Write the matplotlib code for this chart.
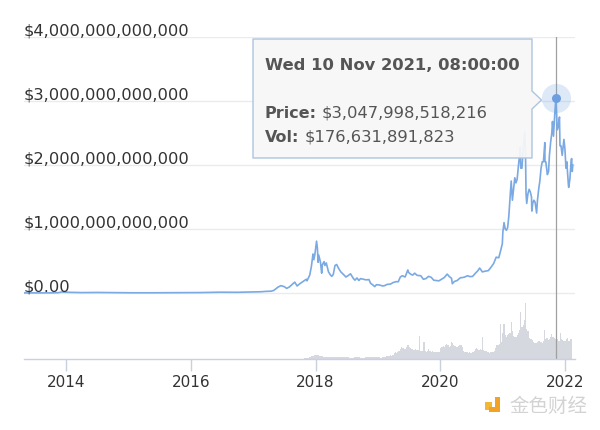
import matplotlib
matplotlib.use("Agg")
import matplotlib.pyplot as plt
import matplotlib.dates as mdates
import matplotlib.transforms as mtransforms
from matplotlib.patches import Polygon, Rectangle
import pandas as pd
import numpy as np

# ------------------------------------------------------------------ data
price_dates = [
    "2013-04-28", "2013-07-05", "2013-10-01", "2013-11-15", "2013-12-04", "2014-01-15",
    "2014-04-01", "2014-07-01", "2014-10-01", "2015-01-15", "2015-06-01", "2015-11-05",
    "2016-03-01", "2016-06-17", "2016-10-01", "2017-01-01", "2017-02-15", "2017-03-15",
    "2017-04-15", "2017-05-01", "2017-05-25", "2017-06-12", "2017-07-01", "2017-07-16",
    "2017-08-01", "2017-08-20", "2017-09-01", "2017-09-15", "2017-10-01", "2017-10-20",
    "2017-11-08", "2017-11-12", "2017-11-28", "2017-12-08", "2017-12-17", "2017-12-22",
    "2017-12-28", "2018-01-07", "2018-01-12", "2018-01-16", "2018-01-20", "2018-01-30",
    "2018-02-06", "2018-02-10", "2018-02-20", "2018-02-25", "2018-03-05", "2018-03-18",
    "2018-03-30", "2018-04-06", "2018-04-15", "2018-04-25", "2018-05-05", "2018-05-15",
    "2018-05-29", "2018-06-10", "2018-06-28", "2018-07-10", "2018-07-25", "2018-08-10",
    "2018-08-20", "2018-09-01", "2018-09-12", "2018-09-22", "2018-10-10", "2018-10-25",
    "2018-11-10", "2018-11-20", "2018-12-01", "2018-12-14", "2018-12-24", "2019-01-01",
    "2019-01-10", "2019-01-30", "2019-02-10", "2019-02-25", "2019-03-15", "2019-04-02",
    "2019-04-20", "2019-05-01", "2019-05-13", "2019-05-25", "2019-06-10", "2019-06-26",
    "2019-07-01", "2019-07-15", "2019-07-25", "2019-08-05", "2019-08-20", "2019-09-10",
    "2019-09-25", "2019-10-10", "2019-10-26", "2019-11-10", "2019-11-25", "2019-12-10",
    "2019-12-25", "2020-01-10", "2020-01-25", "2020-02-12", "2020-02-25", "2020-03-08",
    "2020-03-13", "2020-03-25", "2020-04-10", "2020-04-30", "2020-05-10", "2020-05-25",
    "2020-06-10", "2020-06-25", "2020-07-10", "2020-07-25", "2020-08-10", "2020-08-20",
    "2020-09-05", "2020-09-20", "2020-10-10", "2020-10-25", "2020-11-10", "2020-11-25",
    "2020-12-10", "2020-12-20", "2020-12-31",
    "2021-01-03", "2021-01-10", "2021-01-17", "2021-01-24", "2021-01-31", "2021-02-07",
    "2021-02-14", "2021-02-21", "2021-02-28", "2021-03-07", "2021-03-14", "2021-03-21",
    "2021-03-28", "2021-04-04", "2021-04-11", "2021-04-14", "2021-04-18", "2021-04-25",
    "2021-05-02", "2021-05-09", "2021-05-12", "2021-05-16", "2021-05-19", "2021-05-23",
    "2021-05-30", "2021-06-06", "2021-06-13", "2021-06-20", "2021-06-22", "2021-06-27",
    "2021-07-04", "2021-07-11", "2021-07-20", "2021-07-25", "2021-08-01", "2021-08-08",
    "2021-08-15", "2021-08-22", "2021-08-29", "2021-09-06", "2021-09-07", "2021-09-12",
    "2021-09-21", "2021-09-28", "2021-10-03", "2021-10-10", "2021-10-17", "2021-10-21",
    "2021-10-27", "2021-11-03", "2021-11-10", "2021-11-14", "2021-11-18", "2021-11-24",
    "2021-12-01", "2021-12-04", "2021-12-10", "2021-12-17", "2021-12-27",
    "2022-01-02", "2022-01-08", "2022-01-13", "2022-01-22", "2022-01-24", "2022-01-31",
    "2022-02-07", "2022-02-10", "2022-02-14", "2022-02-17",
]
# total market cap, trillions of USD
price_tn = [
    0.0016, 0.0010, 0.0019, 0.0050, 0.0150, 0.0110,
    0.0065, 0.0085, 0.0055, 0.0035, 0.0035, 0.0060,
    0.0070, 0.0125, 0.0110, 0.0177, 0.0195, 0.0250,
    0.0280, 0.0400, 0.0900, 0.1150, 0.1000, 0.0720,
    0.0950, 0.1400, 0.1700, 0.1100, 0.1450, 0.1800,
    0.2150, 0.1900, 0.2800, 0.4200, 0.6100, 0.5200,
    0.6000, 0.8100, 0.7000, 0.4800, 0.5900, 0.4800,
    0.3100, 0.4400, 0.4900, 0.4300, 0.4700, 0.3300,
    0.2800, 0.2600, 0.2900, 0.4300, 0.4450, 0.3900,
    0.3300, 0.3000, 0.2500, 0.2700, 0.3000, 0.2300,
    0.2000, 0.2350, 0.1950, 0.2250, 0.2150, 0.2050,
    0.2100, 0.1500, 0.1300, 0.1000, 0.1300, 0.1280,
    0.1250, 0.1100, 0.1150, 0.1350, 0.1380, 0.1650,
    0.1780, 0.1750, 0.2500, 0.2700, 0.2500, 0.3600,
    0.3200, 0.2900, 0.2800, 0.3100, 0.2750, 0.2700,
    0.2150, 0.2250, 0.2600, 0.2450, 0.2000, 0.1950,
    0.1900, 0.2150, 0.2400, 0.2950, 0.2550, 0.2300,
    0.1450, 0.1800, 0.1950, 0.2400, 0.2400, 0.2500,
    0.2700, 0.2550, 0.2600, 0.3050, 0.3500, 0.3900,
    0.3300, 0.3400, 0.3500, 0.4000, 0.4600, 0.5600,
    0.5500, 0.6500, 0.7700,
    0.95, 1.10, 1.00, 0.98, 1.02, 1.20,
    1.48, 1.75, 1.45, 1.62, 1.80, 1.72,
    1.78, 1.98, 2.15, 2.28, 1.95, 1.95,
    2.25, 2.45, 2.52, 2.15, 1.55, 1.40,
    1.55, 1.62, 1.58, 1.50, 1.28, 1.40,
    1.45, 1.42, 1.25, 1.45, 1.62, 1.75,
    1.95, 2.05, 2.05, 2.35, 2.05, 2.05,
    1.85, 1.90, 2.15, 2.35, 2.50, 2.68,
    2.45, 2.78, 3.048, 2.80, 2.55, 2.60,
    2.75, 2.30, 2.30, 2.15, 2.40,
    2.25, 1.95, 2.05, 1.70, 1.65, 1.78,
    2.05, 2.10, 1.90, 2.00,
]

vol_early_dates = [
    "2013-04-28", "2013-12-01", "2014-06-01", "2015-06-01", "2016-06-01", "2017-01-01",
    "2017-05-01", "2017-08-01", "2017-10-01", "2017-11-15", "2017-12-01", "2017-12-15",
    "2018-01-01", "2018-01-15", "2018-02-01", "2018-03-01", "2018-04-01", "2018-05-01",
    "2018-06-01", "2018-07-01", "2018-08-01", "2018-09-01", "2018-10-01", "2018-11-01",
    "2018-12-01", "2018-12-30",
]
vol_early_bn = [
    0.05, 0.5, 0.1, 0.05, 0.1, 0.2,
    1.5, 2.5, 2.5, 6, 12, 25,
    30, 32, 22, 15, 12, 13,
    12, 12, 11, 12, 10, 12,
    12, 12,
]
vol_weekly_start = "2019-01-06"
vol_2019_bn = [12, 13, 11, 12, 12, 14, 18, 22, 24, 26, 28, 25, 27,
               45, 50, 48, 52, 60, 75, 90, 85, 80, 78, 95, 110, 105,
               90, 85, 78, 72, 70, 75, 68, 66, 177, 62, 60, 58, 127,
               58, 55, 60, 75, 62, 55, 58, 52, 54, 50, 55, 52, 50]
vol_2020_bn = [85, 95, 100, 90, 110, 115, 105, 95, 100, 127, 120, 110, 100,
               95, 92, 100, 105, 110, 95, 60, 55, 52, 50, 48, 52, 45,
               48, 50, 58, 75, 80, 78, 70, 76, 72, 170, 65, 60, 62,
               55, 50, 48, 52, 55, 50, 62, 80, 110, 105, 115, 266, 130]
vol_2021_bn = [200, 266, 180, 170, 185, 190, 200, 280, 210, 175, 170, 165, 180,
               200, 220, 355, 240, 260, 300, 425, 230, 210, 160, 150, 155, 145,
               130, 125, 120, 128, 135, 135, 130, 125, 140, 223, 150, 160, 145,
               150, 165, 190, 170, 160, 155, 177, 150, 140, 195, 150, 145, 135]
vol_2022_bn = [140, 150, 160, 135, 140, 150, 145]

ytick_values = [0, 1e12, 2e12, 3e12, 4e12]
ytick_labels = ["$0.00", "$1,000,000,000,000", "$2,000,000,000,000",
                "$3,000,000,000,000", "$4,000,000,000,000"]
xtick_years = [2014, 2016, 2018, 2020, 2022]

tip_date = "2021-11-10"
tip_title = "Wed 10 Nov 2021, 08:00:00"
tip_price = 3047998518216
tip_vol = 176631891823
watermark = "金色财经"

# ------------------------------------------------------------------ figure
W, H = 600, 431
fig = plt.figure(figsize=(W / 100, H / 100), dpi=100)
fig.patch.set_facecolor("white")


def fx(px):
    return px / W


def fy(py):
    return 1 - py / H


ax_l, ax_r, ax_t, ax_b = 24, 575, 38, 360
ax = fig.add_axes([fx(ax_l), fy(ax_b), fx(ax_r) - fx(ax_l), fy(ax_t) - fy(ax_b)])
axv = ax.twinx()
ax.set_zorder(2)
axv.set_zorder(1)
ax.patch.set_visible(False)

pdates = pd.to_datetime(price_dates)
prices = np.array(price_tn) * 1e12

vdates = pd.to_datetime(vol_early_dates).append(
    pd.date_range(vol_weekly_start,
                  periods=len(vol_2019_bn) + len(vol_2020_bn) + len(vol_2021_bn) + len(vol_2022_bn),
                  freq="W-SUN"))
vols = np.array(vol_early_bn + vol_2019_bn + vol_2020_bn + vol_2021_bn + vol_2022_bn) * 1e9

# price scale: 0 at y=294 px, 4T at y=38 px
px_per_unit = (294 - 38) / 4e12
ax.set_ylim(-(ax_b - 294) / px_per_unit, 4e12)
# volume scale
axv.set_ylim(0, (ax_b - ax_t) * 7.6e9)

x0 = pd.Timestamp("2013-04-28")
x1 = pd.Timestamp("2022-03-02")
ax.set_xlim(x0, x1)

# grid lines
for v in ytick_values:
    ax.axhline(v, color="#ebebeb", lw=1.0, zorder=0)

# volume
axv.fill_between(vdates, vols, step="mid", color="#d6d8e0", lw=0)

# crosshair
ax.axvline(pd.Timestamp(tip_date), color="#a0a0a0", lw=0.9, zorder=2)

# price line
ax.plot(pdates, prices, color="#7aa9e3", lw=1.2, zorder=3, solid_joinstyle="round")

# marker
ax.plot([pd.Timestamp(tip_date)], [tip_price], "o", ms=21, color="#6d9fe0", alpha=0.22,
        mec="none", zorder=4)
ax.plot([pd.Timestamp(tip_date)], [tip_price], "o", ms=6.5, color="#6d9fe0", mec="none", zorder=5)

# y labels (inside, above grid lines)
ytrans = mtransforms.offset_copy(
    mtransforms.blended_transform_factory(ax.transAxes, ax.transData),
    fig=fig, x=0, y=2.5, units="dots")
for v, lab in zip(ytick_values, ytick_labels):
    ax.text(0, v, lab, transform=ytrans, ha="left", va="baseline", fontsize=11.7,
            color="#333333", zorder=6)
ax.set_yticks([])
axv.set_yticks([])

# x axis
ax.set_xticks([pd.Timestamp(f"{y}-01-01") for y in xtick_years])
ax.set_xticklabels([str(y) for y in xtick_years])
ax.tick_params(axis="x", length=8.8, width=1, color="#c9d0e0", labelsize=11,
               labelcolor="#333333", pad=2)
for a in (ax, axv):
    for s in ("top", "right", "left"):
        a.spines[s].set_visible(False)
    a.spines["bottom"].set_visible(False)
ax.spines["bottom"].set_visible(True)
ax.spines["bottom"].set_color("#c9d0e0")
ax.spines["bottom"].set_linewidth(1)

# tooltip
box_pts = [(253, 40), (532, 40), (532, 92), (541.5, 101), (532, 110), (532, 159), (253, 159)]
fig.patches.append(Polygon([(fx(x), fy(y)) for x, y in box_pts], closed=True,
                           transform=fig.transFigure, facecolor="#f7f7f7", alpha=0.94,
                           edgecolor="#a9c1de", lw=1.0, joinstyle="round", zorder=10))
fig.text(fx(265), fy(70), tip_title, fontsize=11.8, fontweight="bold", color="#555555",
         va="baseline", zorder=11)
renderer = fig.canvas.get_renderer()
for lab, val, yy in (("Price:", f"${tip_price:,}", 118), ("Vol:", f"${tip_vol:,}", 142)):
    t = fig.text(fx(265), fy(yy), lab, fontsize=11.5, fontweight="bold", color="#555555",
                 va="baseline", zorder=11)
    bb = t.get_window_extent(renderer)
    fig.text((bb.x1 + 5) / W, fy(yy), val, fontsize=11.8, color="#555555",
             va="baseline", zorder=11)

# watermark logo + text


def rect(l, t, w, h, c):
    fig.patches.append(Rectangle((fx(l), fy(t + h)), w / W, h / H, transform=fig.transFigure,
                                 facecolor=c, edgecolor="none", zorder=10))


rect(485, 403, 7, 7.5, "#f3b735")
rect(495, 398, 4.8, 14.5, "#f2a325")
rect(489, 408, 10, 4.5, "#f2a325")
fig.text(fx(509), fy(406), watermark, fontsize=14, color="#d3d3d3", va="center",
         family=["Noto Sans CJK SC", "DejaVu Sans"], zorder=11)

fig.savefig("out.png", dpi=100)
